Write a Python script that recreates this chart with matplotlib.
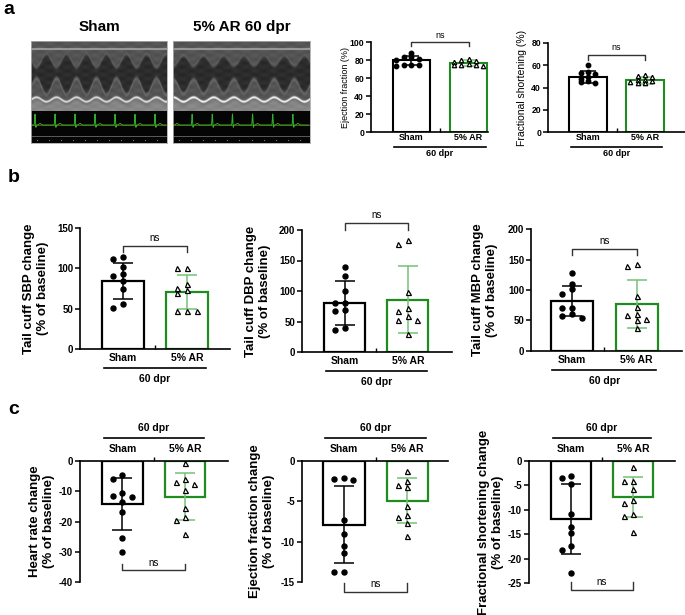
import numpy as np
import matplotlib
matplotlib.use('Agg')
import matplotlib.pyplot as plt
from matplotlib.transforms import blended_transform_factory

plt.rcParams['font.family'] = ['Liberation Sans', 'DejaVu Sans']

# ---------------- data ----------------
groups = ['Sham', '5% AR']
timepoint = '60 dpr'

# panel a
ef_sham = [88, 83, 83, 81, 80, 75, 74, 74, 73]
ef_ar = [81, 80, 79, 78, 76, 75, 74, 74, 73]
ef_mean = [79.5, 76.5]
ef_sd = [4.5, 3.3]

fs_sham = [60, 54, 53, 52, 49, 48, 46, 44, 45]
fs_ar = [51, 50, 49, 47, 47, 46, 45, 44, 44]
fs_mean = [49.3, 46.5]
fs_sd = [5.5, 3.3]

# panel b
sbp_sham = [114, 111, 102, 93, 90, 84, 74, 56, 51]
sbp_ar = [101, 100, 80, 76, 73, 69, 47, 47, 47]
sbp_mean = [84, 71]
sbp_sd = [22, 21]

dbp_sham = [140, 125, 100, 81, 81, 69, 68, 40, 36]
dbp_ar = [183, 177, 98, 72, 67, 59, 53, 53, 30]
dbp_mean = [81, 86]
dbp_sd = [36, 55]

mbp_sham = [128, 110, 101, 93, 71, 71, 60, 57, 54]
mbp_ar = [143, 139, 90, 72, 60, 59, 52, 51, 37]
mbp_mean = [82, 77]
mbp_sd = [25, 39]

# panel c
hr_sham = [-4.5, -6, -10.6, -11.7, -11.9, -13.5, -16.8, -25.3, -30.2]
hr_ar = [-0.5, -6, -7, -7.7, -9.7, -15.7, -18.5, -19.6, -24.2]
hr_mean = [-14.2, -11.8]
hr_sd = [8.5, 7.8]

efc_sham = [-2.1, -2.2, -2.4, -7.3, -9.0, -10.5, -11.4, -13.7, -13.7]
efc_ar = [-1.2, -2.5, -3.0, -3.2, -5.6, -6.7, -6.9, -7.7, -9.3]
efc_mean = [-7.9, -4.9]
efc_sd = [4.8, 2.8]

fsc_sham = [-3.1, -3.4, -4.7, -10.9, -13.5, -14.7, -17.4, -18.3, -22.9]
fsc_ar = [-1.2, -4.1, -4.2, -5.7, -8.0, -8.6, -10.8, -11.3, -14.5]
fsc_mean = [-11.9, -7.3]
fsc_sd = [7.1, 4.1]

# ---------------- style ----------------
W, H = 685, 615
fig = plt.figure(figsize=(W / 100, H / 100), dpi=100)
GREEN = '#1f8c1f'
LGREEN = '#74c274'


def ax_px(l, t, r, b):
    return fig.add_axes([l / W, 1 - b / H, (r - l) / W, (b - t) / H])


def swarm(vals, px_per_unit, step, min_px=5.0):
    order = np.argsort(vals)[::-1]
    placed = []
    offs = np.zeros(len(vals))
    for i in order:
        y = vals[i] * px_per_unit
        for k in [0, -1, 1, -2, 2, -3, 3]:
            ok = all(not (pk == k and abs(py - y) < min_px) for pk, py in placed)
            if ok:
                placed.append((k, y))
                offs[i] = k * step
                break
    return offs


def bar_panel(ax, sham, ar, mean, sd, ylim, yticks, xlim, hpx, top_axis=False,
              msize=3.6, capsize=7.5, tick_fs=7, lw=1.6, step=0.15, sep=1.5):
    ax.set_xlim(*xlim)
    ax.set_ylim(*ylim)
    ppu = hpx / (ylim[1] - ylim[0])
    bw = 0.65
    ax.bar(0, mean[0], width=bw, color='white', edgecolor='black', linewidth=lw, zorder=1)
    ax.bar(1, mean[1], width=bw, color='white', edgecolor=GREEN, linewidth=lw, zorder=1)
    ax.errorbar(0, mean[0], yerr=sd[0], color='black', capsize=capsize, elinewidth=1.1,
                capthick=1.1, zorder=3)
    ax.errorbar(1, mean[1], yerr=sd[1], color=LGREEN, capsize=capsize, elinewidth=1.1,
                capthick=1.1, zorder=3)
    o0 = swarm(np.array(sham), ppu, step, min_px=msize * sep)
    o1 = swarm(np.array(ar), ppu, step, min_px=msize * sep)
    ax.plot(0 + o0, sham, 'o', color='black', markersize=msize, zorder=4, clip_on=False)
    ax.plot(1 + o1, ar, '^', markerfacecolor='white', markeredgecolor='black',
            markersize=msize, markeredgewidth=0.9, zorder=4, clip_on=False)
    ax.spines['right'].set_visible(False)
    if top_axis:
        ax.spines['bottom'].set_visible(False)
        ax.xaxis.set_ticks_position('top')
        ax.spines['top'].set_linewidth(1.2)
        ax.tick_params(axis='x', direction='out', length=3, width=1)
    else:
        ax.spines['top'].set_visible(False)
        ax.spines['bottom'].set_linewidth(1.2)
        ax.tick_params(axis='x', direction='in', length=3, width=1)
    ax.spines['left'].set_linewidth(1.2)
    ax.set_xticks([0.5])
    ax.set_xticklabels([''])
    ax.set_yticks(yticks)
    ax.set_yticklabels([str(t) for t in yticks], fontweight='bold', fontsize=tick_fs)
    ax.tick_params(axis='y', direction='out', length=3.5, width=1.1, pad=1.5)
    ax.patch.set_alpha(0)


def group_labels(ax, hpx, d1, d2, d3, fs=7.5, below=True, x0=-0.3, x1=1.3, lw=1.2):
    tr = blended_transform_factory(ax.transData, ax.transAxes)
    sgn = -1 if below else 1
    base = 0 if below else 1
    for i, g in enumerate(groups):
        ax.text(i, base + sgn * d1 / hpx, g, transform=tr, ha='center', va='center',
                fontsize=fs, fontweight='bold')
    ax.plot([x0, x1], [base + sgn * d2 / hpx] * 2, color='black', lw=lw,
            transform=tr, clip_on=False)
    ax.text(0.5, base + sgn * d3 / hpx, timepoint, transform=tr, ha='center', va='center',
            fontsize=fs, fontweight='bold')


def ylabel(ax, wpx, dx, text, fs=9.5, bold=True):
    ax.text(-dx / wpx, 0.5, text, transform=ax.transAxes, rotation=90, ha='center',
            va='center', fontsize=fs, fontweight='bold' if bold else 'normal',
            linespacing=1.15, multialignment='center')


def bracket_top(ax, y, leg, txt_off, fs=7):
    ax.plot([0, 0, 1, 1], [y - leg, y, y, y - leg], color='#333333', lw=1.0, clip_on=False)
    ax.text(0.5, y + txt_off, 'ns', ha='center', va='bottom', fontsize=fs, clip_on=False)


def bracket_bottom(ax, y, leg, fs=7):
    ax.plot([0, 0, 1, 1], [y + leg, y, y, y + leg], color='#333333', lw=1.0, clip_on=False)
    ax.text(0.5, y + leg * 0.35, 'ns', ha='center', va='bottom', fontsize=fs, clip_on=False)


# ---------------- panel a: echo images (decorative) ----------------
def echo_image(shift, amp_top, amp_bot, floor_gain):
    h, w = 102, 136
    rr, cc = np.mgrid[0:h, 0:w].astype(float)
    ph = 2 * np.pi * (cc + shift) / 20.0
    wave = np.sin(ph)
    sig = lambda z: 1 / (1 + np.exp(-z))
    top_b = 19 + amp_top * wave
    bot_b = 45 - amp_bot * wave
    floor = 58 - 2.2 * wave
    img = 0.33 + 0.0 * rr
    img += 0.35 * np.exp(-((rr - 7.5) / 0.9) ** 2)
    cav = sig((rr - top_b) / 1.5) * sig((bot_b - rr) / 1.5)
    img -= 0.16 * cav
    img += 0.10 * np.exp(-((rr - top_b) / 2.0) ** 2)
    img += 0.14 * np.exp(-((rr - bot_b) / 2.2) ** 2)
    img += floor_gain * np.exp(-((rr - floor) / 1.3) ** 2)
    img += 0.2 * sig((rr - floor - 2.0) / 1.0)
    tex = 0.02 * np.sin(rr * 0.8) * np.cos(cc * 0.35)
    img = np.clip(img + tex, 0, 1)
    rgb = np.dstack([img, img, img])
    rgb[70:, :, :] = 0.02
    rgb[95:96, :, :] = 0.35
    return rgb


def ecg(ax, shift):
    xs = np.linspace(0, 135, 900)
    base = 84.0
    ph = ((xs + shift) % 20.0)
    y = base - 11 * np.exp(-((ph - 4) / 0.45) ** 2) + 2.5 * np.exp(-((ph - 4.9) / 0.35) ** 2) \
        - 1.5 * np.exp(-((ph - 9) / 1.5) ** 2)
    ax.plot([0, 135], [83.5, 83.5], color='#8a7000', lw=0.5)
    ax.plot(xs, y, color='#2fae2f', lw=0.7)
    ax.plot(np.arange(6, 136, 12), np.full(11, 99.0), 's', color='#777777',
            markersize=0.8, markeredgewidth=0)


for (l, r, title, sh, at, ab, fg) in [(31, 167, 'Sham', 0, 6.5, 8, 0.5),
                                      (173, 310, '5% AR 60 dpr', 5, 5, 7, 0.6)]:
    iax = ax_px(l, 41, r, 143)
    iax.imshow(echo_image(sh, at, ab, fg), aspect='auto', interpolation='bilinear',
               extent=(0, 136, 102, 0))
    ecg(iax, sh)
    iax.set_xlim(0, 136)
    iax.set_ylim(102, 0)
    iax.set_xticks([])
    iax.set_yticks([])
    for s in iax.spines.values():
        s.set_edgecolor('#aaaaaa')
        s.set_linewidth(0.6)
    fig.text((l + r) / 2 / W, 1 - 27 / H, title, ha='center', va='center',
             fontsize=11, fontweight='bold')

fig.text(3 / W, 1 - 10 / H, 'a', ha='left', va='center', fontsize=14, fontweight='bold')
fig.text(8 / W, 1 - 178 / H, 'b', ha='left', va='center', fontsize=14, fontweight='bold')
fig.text(8 / W, 1 - 410 / H, 'c', ha='left', va='center', fontsize=14, fontweight='bold')

# EF (a)
ax = ax_px(371, 42, 488, 132)
bar_panel(ax, ef_sham, ef_ar, ef_mean, ef_sd, (0, 100), [0, 20, 40, 60, 80, 100],
          (-0.7, 1.34), 90, msize=3.2, capsize=6, tick_fs=6.2, lw=1.5, step=0.13, sep=0.9)
group_labels(ax, 90, 6, 15, 22, fs=6.5)
ylabel(ax, 117, 26, 'Ejection fraction (%)', fs=6.5, bold=False)
bracket_top(ax, 100, 4.5, 2.5, fs=6.5)

# FS (a)
ax = ax_px(548, 43, 685, 132)
bar_panel(ax, fs_sham, fs_ar, fs_mean, fs_sd, (0, 80), [0, 20, 40, 60, 80],
          (-0.7, 1.7), 89, msize=3.2, capsize=6, tick_fs=6.2, lw=1.5, step=0.13, sep=0.9)
group_labels(ax, 89, 6, 15, 22, fs=6.5)
ylabel(ax, 137, 26, 'Fractional shortening (%)', fs=7.5, bold=False)
bracket_top(ax, 69, 4, 2.5, fs=6.5)

# SBP
ax = ax_px(80, 228, 230, 349)
bar_panel(ax, sbp_sham, sbp_ar, sbp_mean, sbp_sd, (0, 150), [0, 50, 100, 150],
          (-0.67, 1.67), 121)
group_labels(ax, 121, 9, 19, 30)
ylabel(ax, 150, 44, 'Tail cuff SBP change\n(% of baseline)')
bracket_top(ax, 128, 8, 4)

# DBP
ax = ax_px(302, 230, 452, 352)
bar_panel(ax, dbp_sham, dbp_ar, dbp_mean, dbp_sd, (0, 200), [0, 50, 100, 150, 200],
          (-0.68, 1.70), 122)
group_labels(ax, 122, 9, 19, 30)
ylabel(ax, 150, 44, 'Tail cuff DBP change\n(% of baseline)')
bracket_top(ax, 211, 11, 5)

# MBP
ax = ax_px(531, 229, 682, 351)
bar_panel(ax, mbp_sham, mbp_ar, mbp_mean, mbp_sd, (0, 200), [0, 50, 100, 150, 200],
          (-0.63, 1.70), 122)
group_labels(ax, 122, 9, 19, 30)
ylabel(ax, 151, 46, 'Tail cuff MBP change\n(% of baseline)')
bracket_top(ax, 167, 10, 5)

# HR change
ax = ax_px(80, 461, 228, 582)
bar_panel(ax, hr_sham, hr_ar, hr_mean, hr_sd, (-40, 0), [0, -10, -20, -30, -40],
          (-0.68, 1.69), 121, top_axis=True)
group_labels(ax, 121, 12, 23, 33, below=False)
ylabel(ax, 148, 38, 'Heart rate change\n(% of baseline)')
bracket_bottom(ax, -36.1, 2.2)

# EF change
ax = ax_px(302, 461, 448, 582)
bar_panel(ax, efc_sham, efc_ar, efc_mean, efc_sd, (-15, 0), [0, -5, -10, -15],
          (-0.66, 1.64), 121, top_axis=True)
group_labels(ax, 121, 12, 23, 33, below=False)
ylabel(ax, 146, 40, 'Ejection fraction change\n(% of baseline)')
bracket_bottom(ax, -16.2, 1.1)

# FS change
ax = ax_px(529, 461, 675, 583)
bar_panel(ax, fsc_sham, fsc_ar, fsc_mean, fsc_sd, (-25, 0), [0, -5, -10, -15, -20, -25],
          (-0.68, 1.68), 122, top_axis=True)
group_labels(ax, 122, 12, 23, 33, below=False)
ylabel(ax, 146, 38, 'Fractional shortening change\n(% of baseline)')
bracket_bottom(ax, -26.4, 1.6)

fig.savefig('out.png', dpi=100)
